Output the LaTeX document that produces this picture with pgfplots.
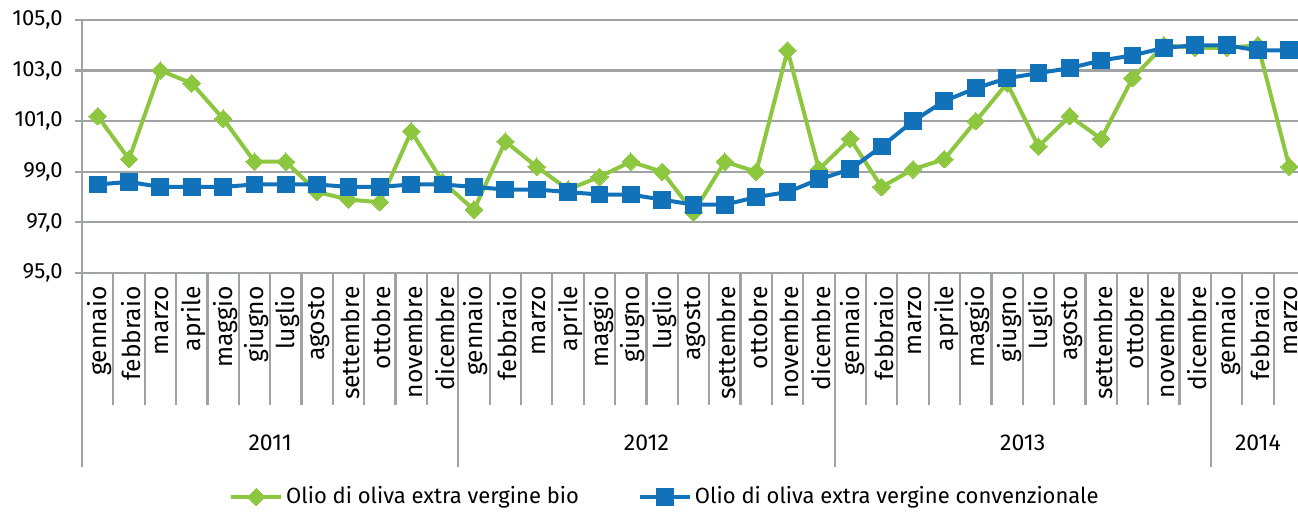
\documentclass[border=0pt]{standalone}
\usepackage{fontspec}
\setmainfont{Fira Sans}
\usepackage{pgfplots}
\pgfplotsset{compat=1.18}
\definecolor{vbio}{RGB}{141,198,63}
\definecolor{vconv}{RGB}{17,114,186}
\definecolor{gridg}{RGB}{160,162,165}
\newcommand{\lblfont}{\fontsize{11}{13}\selectfont}
\newcommand{\monfont}{\fontsize{12.3}{14}\selectfont}
\newcommand{\yrfont}{\fontsize{11.5}{13.5}\selectfont}
\begin{document}
\begin{tikzpicture}
\begin{axis}[
  at={(0,0)}, anchor=south west,
  width=611.5pt, height=126.5pt, scale only axis,
  xmin=-0.5, xmax=38.5, ymin=95, ymax=105,
  clip=false,
  axis lines=left,
  axis line style={-, draw=gridg, line width=1.1pt},
  ytick={95,97,...,105},
  ymajorgrids,
  major grid style={draw=gridg, line width=1.1pt},
  tick align=outside, major tick length=3.5pt,
  ytick style={draw=gridg, line width=1.1pt},
  xtick={0,...,38}, xtick style={draw=none},
  xticklabels={gennaio,febbraio,marzo,aprile,maggio,giugno,luglio,agosto,settembre,ottobre,novembre,dicembre,
               gennaio,febbraio,marzo,aprile,maggio,giugno,luglio,agosto,settembre,ottobre,novembre,dicembre,
               gennaio,febbraio,marzo,aprile,maggio,giugno,luglio,agosto,settembre,ottobre,novembre,dicembre,
               gennaio,febbraio,marzo},
  xticklabel style={rotate=90, anchor=east, inner sep=0pt, font=\monfont, xshift=-3pt, yshift=-1pt},
  yticklabel style={font=\lblfont, inner sep=0pt, xshift=-6pt},
  /pgf/number format/fixed,
  /pgf/number format/fixed zerofill,
  /pgf/number format/precision=1,
  /pgf/number format/use comma,
  /pgf/number format/assume math mode=true,
  legend columns=2,
  legend style={at={(0.477,-0.885)}, anchor=center, draw=none, fill=none,
    font=\lblfont, inner sep=0pt,
    /tikz/every even column/.append style={column sep=28pt},
    nodes={inner sep=1.5pt}},
  legend image code/.code={\draw[mark repeat=2,mark phase=2,#1] plot coordinates {(0pt,0pt) (12.5pt,0pt) (25pt,0pt)};},
]
\addplot[vbio, line width=2pt, mark=square*, mark size=3.1pt, mark options={rotate=45, draw=vbio, fill=vbio, line width=0pt}]
coordinates {
(0,101.2) (1,99.5) (2,103.0) (3,102.5) (4,101.1) (5,99.4) (6,99.4) (7,98.2) (8,97.9) (9,97.8) (10,100.6) (11,98.6)
(12,97.5) (13,100.2) (14,99.2) (15,98.3) (16,98.8) (17,99.4) (18,99.0) (19,97.4) (20,99.4) (21,99.0) (22,103.8) (23,99.1)
(24,100.3) (25,98.4) (26,99.1) (27,99.5) (28,101.0) (29,102.5) (30,100.0) (31,101.2) (32,100.3) (33,102.7) (34,104.0) (35,103.9)
(36,103.9) (37,104.0) (38,99.2)
};
\addlegendentry{Olio di oliva extra vergine bio}
\addplot[vconv, line width=2pt, mark=square*, mark size=4.2pt, mark options={draw=vconv, fill=vconv, line width=0pt}]
coordinates {
(0,98.5) (1,98.6) (2,98.4) (3,98.4) (4,98.4) (5,98.5) (6,98.5) (7,98.5) (8,98.4) (9,98.4) (10,98.5) (11,98.5)
(12,98.4) (13,98.3) (14,98.3) (15,98.2) (16,98.1) (17,98.1) (18,97.9) (19,97.7) (20,97.7) (21,98.0) (22,98.2) (23,98.7)
(24,99.1) (25,100.0) (26,101.0) (27,101.8) (28,102.3) (29,102.7) (30,102.9) (31,103.1) (32,103.4) (33,103.6) (34,103.9) (35,104.0)
(36,104.0) (37,103.8) (38,103.8)
};
\addlegendentry{Olio di oliva extra vergine convenzionale}
\pgfplotsinvokeforeach{0.5,1.5,...,37.5}{
  \draw[gridg, line width=1.1pt] (axis cs:#1,95) -- ([yshift=-66pt]axis cs:#1,95);
}
\pgfplotsinvokeforeach{-0.5,11.5,23.5,35.5}{
  \draw[gridg, line width=1.1pt] (axis cs:#1,95) -- ([yshift=-97pt]axis cs:#1,95);
}
\node[font=\yrfont] at (axis cs:5.5,95) [yshift=-85pt] {2011};
\node[font=\yrfont] at (axis cs:17.5,95) [yshift=-85pt] {2012};
\node[font=\yrfont] at (axis cs:29.5,95) [yshift=-85pt] {2013};
\node[font=\yrfont] at (axis cs:37,95) [yshift=-85pt] {2014};
\end{axis}
\pgfresetboundingbox
\path[use as bounding box] (-41pt,-120pt) rectangle (608pt,136.5pt);
\end{tikzpicture}
\end{document}
